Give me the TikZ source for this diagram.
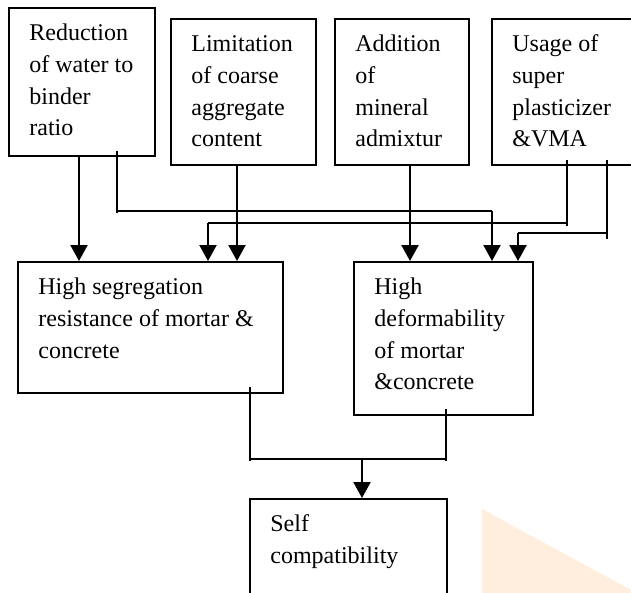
\documentclass[tikz,border=0pt]{standalone}
\usepackage{fontspec}
\setmainfont{Liberation Serif}
\usetikzlibrary{arrows.meta}
\definecolor{peach}{RGB}{255,238,221}

\begin{document}
\begin{tikzpicture}[x=0.5pt, y=-0.5pt,
  box/.style={rectangle, draw, line width=0.9pt, anchor=north west, inner sep=0pt},
  txt/.style={anchor=north west, inner sep=0pt, align=left, xshift=10.5pt, yshift=-5.6pt,
    font=\fontsize{12}{15.85}\selectfont},
  link/.style={line width=0.6pt},
  arr/.style={line width=1.1pt, -{Triangle[width=8.5pt,length=8pt]}}]
\useasboundingbox (0,0) rectangle (631,593);
\clip (0,0) rectangle (631,593);
\fill[peach] (482,509) -- (631,590) -- (631,593) -- (482,593) -- cycle;
% top row
\node[box, minimum width=73pt, minimum height=74pt] (red) at (8,7) {};
\node[box, minimum width=72.5pt, minimum height=73pt] (lim) at (170,18) {};
\node[box, minimum width=67pt, minimum height=73pt] (add) at (334,18) {};
\node[box, minimum width=82pt, minimum height=73pt] (use) at (491,18) {};
\node[txt] (tred) at (red.north west) {\strut Reduction\\of water to\\binder\\ratio};
\node[txt] (tlim) at (lim.north west) {\strut Limitation\\of coarse\\aggregate\\content};
\node[txt] (tadd) at (add.north west) {\strut Addition\\of\\mineral\\admixtur};
\node[txt] (tuse) at (use.north west) {\strut Usage of\\super\\plasticizer\\\&VMA};
% middle row
\node[box, minimum width=132.5pt, minimum height=65.5pt] (seg) at (17,261) {};
\node[box, minimum width=89.5pt, minimum height=76.5pt] (def) at (353,261) {};
\node[txt] (tseg) at (seg.north west) {\strut High segregation\\resistance of mortar \&\\concrete};
\node[txt] (tdef) at (def.north west) {\strut High\\deformability\\of mortar\\\&concrete};
% bottom
\node[box, minimum width=98.5pt, minimum height=70pt] (self) at (249,498) {};
\node[txt] (tself) at (self.north west) {\strut Self\\compatibility};
% corners of the joining lines
\coordinate (j1) at (117,211);
\coordinate (j2) at (492,211);
\coordinate (j3) at (567,223);
\coordinate (j4) at (208,223);
\coordinate (j5) at (607,233);
\coordinate (j6) at (518,233);
\coordinate (k1) at (250,459);
\coordinate (k2) at (446,459);
\coordinate (k3) at (362,459);
% straight arrows
\draw[arr] (red.south -| 79,0) -- (seg.north -| 79,0);
\draw[arr] (lim.south -| 237,0) -- (seg.north -| 237,0);
\draw[arr] (add.south -| 410,0) -- (def.north -| 410,0);
% bent links
\draw[link, shorten <=-3pt] (red.south -| j1) -- ([yshift=-1pt]j1);
\draw[link] (j1) -- (j2);
\draw[arr] (j2) -- (def.north -| j2);
\draw[link, shorten <=-3pt] (use.south -| j3) -- ([yshift=-1.5pt]j3);
\draw[link] (j3) -- (j4);
\draw[arr] (j4) -- (seg.north -| j4);
\draw[link, shorten <=-3pt] (use.south -| j5) -- ([yshift=-3pt]j5);
\draw[link] (j5) -- (j6);
\draw[arr] (j6) -- (def.north -| j6);
% join to self compatibility
\draw[link, shorten <=-3.5pt] (seg.south -| k1) -- ([yshift=-1pt]k1);
\draw[link, shorten <=-3.5pt] (def.south -| k2) -- ([yshift=-1pt]k2);
\draw[link] (k1) -- (k2);
\draw[arr] (k3) -- (self.north -| k3);
\end{tikzpicture}
\end{document}
